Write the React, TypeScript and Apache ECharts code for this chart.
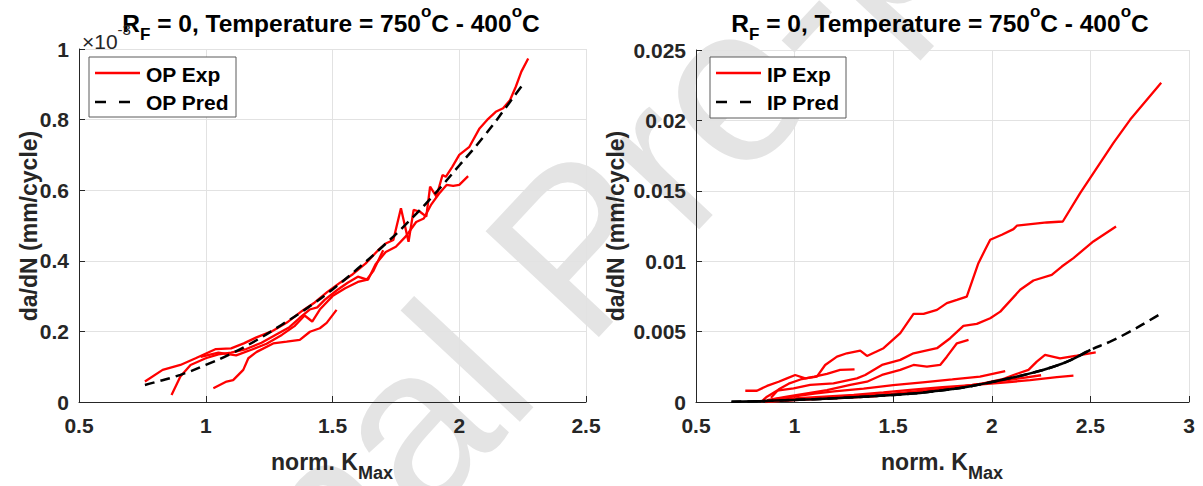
import React, { useEffect, useRef } from "react";
import * as echarts from "echarts";

// ---------- data (left panel: da/dN in units of 10^-3 mm/cycle) ----------
const OP_X_TICKS = [0.5, 1, 1.5, 2, 2.5];
const OP_Y_TICKS = [0, 0.2, 0.4, 0.6, 0.8, 1];
const IP_X_TICKS = [0.5, 1, 1.5, 2, 2.5, 3];
const IP_Y_TICKS = [0, 0.005, 0.01, 0.015, 0.02, 0.025];

const OP_EXP_1 = [[0.76,0.058],[0.83,0.091],[0.9,0.105],[0.96,0.124],[1.04,0.150],[1.1,0.152],[1.15,0.166],[1.2,0.183],[1.26,0.200],[1.32,0.225],[1.38,0.258],[1.43,0.282],[1.48,0.312],[1.53,0.338],[1.58,0.362],[1.63,0.392],[1.68,0.43],[1.71,0.449],[1.74,0.459],[1.77,0.549],[1.80,0.454],[1.82,0.544],[1.845,0.539],[1.87,0.525],[1.885,0.610],[1.91,0.582],[1.934,0.643],[1.947,0.638],[1.973,0.667],[2.0,0.700],[2.04,0.723],[2.08,0.775],[2.11,0.799],[2.144,0.822],[2.173,0.832],[2.2,0.855],[2.223,0.893],[2.245,0.936],[2.272,0.973]];
const OP_EXP_2 = [[0.865,0.020],[0.9,0.072],[0.94,0.105],[1.0,0.124],[1.05,0.135],[1.1,0.140],[1.16,0.150],[1.22,0.168],[1.28,0.192],[1.33,0.212],[1.37,0.238],[1.41,0.262],[1.44,0.268],[1.47,0.29],[1.52,0.318],[1.56,0.338],[1.6,0.355],[1.64,0.346],[1.67,0.39],[1.71,0.425],[1.75,0.44],[1.79,0.47],[1.83,0.51],[1.86,0.52],[1.89,0.56],[1.92,0.59],[1.95,0.615],[1.976,0.612],[2.0,0.615],[2.035,0.640]];
const OP_EXP_3 = [[1.030,0.039],[1.082,0.058],[1.108,0.062],[1.148,0.091],[1.168,0.124],[1.201,0.142],[1.266,0.166],[1.319,0.171],[1.371,0.176],[1.411,0.199],[1.45,0.209],[1.477,0.224],[1.516,0.261]];
const OP_EXP_4 = [[0.98,0.128],[1.05,0.14],[1.12,0.132],[1.18,0.148],[1.24,0.165],[1.3,0.19],[1.35,0.215],[1.39,0.245],[1.42,0.228],[1.45,0.262],[1.5,0.3],[1.55,0.322],[1.6,0.34],[1.634,0.346],[1.66,0.37],[1.7,0.43]];
const OP_PRED = [[0.76,0.048],[0.8,0.056],[0.9,0.077],[1.0,0.105],[1.1,0.137],[1.2,0.175],[1.3,0.219],[1.4,0.266],[1.5,0.319],[1.6,0.378],[1.7,0.442],[1.8,0.511],[1.9,0.587],[2.0,0.670],[2.1,0.755],[2.2,0.850],[2.255,0.904]];

// ---------- data (right panel: da/dN in mm/cycle) ----------
const IP_EXP_1 = [[0.750,0.0008],[0.809,0.0008],[0.860,0.00114],[0.919,0.00144],[0.961,0.00168],[1.003,0.00192],[1.054,0.00168],[1.113,0.0018],[1.155,0.00263],[1.215,0.00322],[1.265,0.00346],[1.333,0.00365],[1.367,0.00327],[1.451,0.00382],[1.536,0.00489],[1.603,0.00626],[1.654,0.00626],[1.722,0.00654],[1.772,0.00702],[1.823,0.00725],[1.873,0.00749],[1.932,0.00986],[1.966,0.01081],[1.992,0.01152],[2.051,0.01188],[2.11,0.01228],[2.127,0.01252],[2.279,0.01275],[2.36,0.01282],[2.448,0.01484],[2.617,0.0184],[2.702,0.02006],[2.859,0.02267]];
const IP_EXP_2 = [[0.83,0.0],[0.86,0.00038],[0.91,0.0008],[0.995,0.00097],[1.079,0.00121],[1.197,0.00133],[1.316,0.00168],[1.358,0.00192],[1.443,0.00263],[1.536,0.00299],[1.603,0.00346],[1.722,0.00382],[1.789,0.00453],[1.856,0.0054],[1.924,0.00555],[1.992,0.00595],[2.043,0.00642],[2.144,0.00797],[2.211,0.00863],[2.304,0.00903],[2.355,0.00962],[2.414,0.01022],[2.515,0.0114],[2.63,0.01247]];
const IP_EXP_3 = [[0.86,0.00014],[0.961,0.00038],[1.063,0.00062],[1.164,0.00085],[1.282,0.00121],[1.367,0.00144],[1.443,0.00192],[1.536,0.00228],[1.603,0.00263],[1.671,0.00251],[1.738,0.00263],[1.772,0.00322],[1.823,0.00417],[1.882,0.00441]];
const IP_EXP_4 = [[0.88,0.0003],[0.92,0.0009],[0.97,0.0013],[1.03,0.0016],[1.1,0.0018],[1.164,0.0020],[1.231,0.00228],[1.304,0.00232]];
const IP_EXP_5 = [[0.95,0.0001],[1.05,0.0002],[1.2,0.0003],[1.35,0.00045],[1.5,0.0006],[1.65,0.0008],[1.8,0.001],[1.95,0.0013],[2.05,0.0016],[2.11,0.00192],[2.186,0.00228],[2.228,0.00287],[2.27,0.00334],[2.346,0.0031],[2.431,0.00329],[2.527,0.00353]];
const IP_EXP_6 = [[0.87,0.0001],[1.0,0.00025],[1.15,0.00038],[1.3,0.0005],[1.45,0.00068],[1.6,0.00088],[1.75,0.00105],[1.9,0.0012],[2.059,0.00137],[2.194,0.00156],[2.33,0.00176],[2.414,0.00187]];
const IP_EXP_7 = [[0.9,0.0002],[1.0,0.0004],[1.1,0.0006],[1.2,0.00075],[1.35,0.00095],[1.5,0.0012],[1.65,0.0014],[1.8,0.0016],[1.94,0.0018],[2.068,0.0022]];
const IP_EXP_8 = [[0.85,0.0],[0.95,0.0001],[1.1,0.0002],[1.25,0.0003],[1.4,0.0004],[1.55,0.0006],[1.7,0.0008],[1.85,0.0011],[2.0,0.0014],[2.15,0.0017],[2.25,0.0019]];
const IP_PRED = [[0.68,0.00002],[0.8,0.00005],[0.9,0.0001],[1.0,0.00015],[1.1,0.0002],[1.2,0.00026],[1.3,0.00033],[1.4,0.00041],[1.5,0.0005],[1.6,0.0006],[1.7,0.00075],[1.8,0.00092],[1.9,0.00114],[2.0,0.00142],[2.1,0.00172],[2.2,0.00205],[2.3,0.00245],[2.4,0.00298],[2.5,0.0037],[2.6,0.00429],[2.7,0.005],[2.8,0.0058],[2.86,0.0063]];
const IP_PRED_OVERLAP_END = 2.5;

const OP_EXP_SERIES = [OP_EXP_1, OP_EXP_2, OP_EXP_3, OP_EXP_4];
const IP_EXP_SERIES = [IP_EXP_1, IP_EXP_2, IP_EXP_3, IP_EXP_4, IP_EXP_5, IP_EXP_6, IP_EXP_7, IP_EXP_8];

const TITLE_TEXT = "{m|R}{s|F}{m| = 0, Temperature = 750}{p|o}{m|C - 400}{p|o}{m|C}";
const FONT = "'Liberation Sans', Arial, Helvetica, sans-serif";
const AXIS_COLOR = "#262626";
const GRID_COLOR = "#e2e2e2";
const RED = "#ff0000";

function axisCommon(min: number, max: number, interval: number, gridIndex: number, labelMargin: number) {
  return {
    gridIndex,
    type: "value",
    min,
    max,
    interval,
    axisLine: { show: true, onZero: false, lineStyle: { color: AXIS_COLOR, width: 1 } },
    axisTick: { show: true, inside: true, length: 6, lineStyle: { color: AXIS_COLOR } },
    axisLabel: {
      margin: labelMargin,
      color: AXIS_COLOR,
      fontSize: 21,
      fontWeight: "bold",
      fontFamily: FONT,
      showMinLabel: true,
      showMaxLabel: true,
    },
    splitLine: { show: true, lineStyle: { color: GRID_COLOR, width: 1 } },
  };
}

const titleRich = {
  m: { fontSize: 24.5, fontWeight: "bold", fontFamily: FONT, fill: "#000", lineHeight: 40, verticalAlign: "middle" },
  s: { fontSize: 17, fontWeight: "bold", fontFamily: FONT, fill: "#000", lineHeight: 14, verticalAlign: "bottom" },
  p: { fontSize: 17, fontWeight: "bold", fontFamily: FONT, fill: "#000", lineHeight: 20, verticalAlign: "top" },
};
const xNameRich = {
  m: { fontSize: 23, fontWeight: "bold", fontFamily: FONT, fill: "#262626", lineHeight: 40, verticalAlign: "middle" },
  s: { fontSize: 18, fontWeight: "bold", fontFamily: FONT, fill: "#262626", lineHeight: 16, verticalAlign: "bottom" },
};

function legend(x: number, y: number, w: number, h: number, a: string, b: string) {
  return [
    { type: "rect", z: 100, shape: { x, y, width: w, height: h }, style: { fill: "#fff", stroke: "#5a5a5a", lineWidth: 1 } },
    { type: "line", z: 101, shape: { x1: x + 6, y1: y + 16, x2: x + 51, y2: y + 16 }, style: { stroke: RED, lineWidth: 2.5 } },
    { type: "line", z: 101, shape: { x1: x + 6, y1: y + 45, x2: x + 41, y2: y + 45 }, style: { stroke: "#000", lineWidth: 2.5, lineDash: [11, 13] } },
    { type: "text", z: 101, x: x + 57, y: y + 17, style: { text: a, fontSize: 21, fontWeight: "bold", fontFamily: FONT, fill: "#000", verticalAlign: "middle" } },
    { type: "text", z: 101, x: x + 57, y: y + 45, style: { text: b, fontSize: 21, fontWeight: "bold", fontFamily: FONT, fill: "#000", verticalAlign: "middle" } },
  ];
}

export default function App() {
  const ref = useRef<HTMLDivElement>(null);
  useEffect(() => {
    if (!ref.current) return;
    const chart = echarts.init(ref.current, null, { renderer: "svg" });
    const series: any[] = [];
    OP_EXP_SERIES.forEach((d) =>
      series.push({ type: "line", name: "OP Exp", xAxisIndex: 0, yAxisIndex: 0, data: d, symbol: "none", lineStyle: { color: RED, width: 2.3 }, z: 3 })
    );
    series.push({ type: "line", name: "OP Pred", xAxisIndex: 0, yAxisIndex: 0, data: OP_PRED, smooth: true, symbol: "none", lineStyle: { color: "#000", width: 2.5, type: [10, 6] }, z: 4 });
    IP_EXP_SERIES.forEach((d) =>
      series.push({ type: "line", name: "IP Exp", xAxisIndex: 1, yAxisIndex: 1, data: d, symbol: "none", lineStyle: { color: RED, width: 2.3 }, z: 3 })
    );
    series.push({ type: "line", name: "IP Pred", xAxisIndex: 1, yAxisIndex: 1, data: IP_PRED, smooth: true, symbol: "none", lineStyle: { color: "#000", width: 2.5, type: [10, 6] }, z: 4 });
    series.push({ type: "line", name: "IP Pred (overlapping specimens)", xAxisIndex: 1, yAxisIndex: 1, data: IP_PRED.filter((p) => p[0] <= IP_PRED_OVERLAP_END), smooth: true, symbol: "none", lineStyle: { color: "#000", width: 2.5 }, z: 4 });

    const option: any = {
      animation: false,
      backgroundColor: "#fff",
      grid: [
        { left: 79, top: 49, width: 507, height: 353 },
        { left: 696, top: 50, width: 493, height: 352 },
      ],
      xAxis: [
        axisCommon(OP_X_TICKS[0], OP_X_TICKS[OP_X_TICKS.length - 1], OP_X_TICKS[1] - OP_X_TICKS[0], 0, 13),
        axisCommon(IP_X_TICKS[0], IP_X_TICKS[IP_X_TICKS.length - 1], IP_X_TICKS[1] - IP_X_TICKS[0], 1, 13),
      ],
      yAxis: [
        axisCommon(OP_Y_TICKS[0], OP_Y_TICKS[OP_Y_TICKS.length - 1], 0.2, 0, 10),
        axisCommon(IP_Y_TICKS[0], IP_Y_TICKS[IP_Y_TICKS.length - 1], 0.005, 1, 10),
      ],
      series,
      graphic: [
        {
          type: "text", z: -10, x: 576, y: 247, rotation: (47 * Math.PI) / 180,
          style: { text: "Journal Pre-proof", fontSize: 225, fontFamily: FONT, fill: "#e4e4e4", align: "center", verticalAlign: "middle" },
        },
        { type: "text", z: 50, x: 331, y: 23, style: { text: TITLE_TEXT, rich: titleRich, align: "center", verticalAlign: "middle" } },
        { type: "text", z: 50, x: 940, y: 23, style: { text: TITLE_TEXT, rich: titleRich, align: "center", verticalAlign: "middle" } },
        {
          type: "text", z: 50, x: 82, y: 37,
          style: {
            text: "{a|×10}{b|-3}",
            rich: {
              a: { fontSize: 21, fontFamily: FONT, fill: "#262626", lineHeight: 30, verticalAlign: "bottom" },
              b: { fontSize: 15, fontFamily: FONT, fill: "#262626", lineHeight: 30, verticalAlign: "top" },
            },
            align: "left", verticalAlign: "middle",
          },
        },
        { type: "text", z: 50, x: 332, y: 462, style: { text: "{m|norm. K}{s|Max}", rich: xNameRich, align: "center", verticalAlign: "middle" } },
        { type: "text", z: 50, x: 942, y: 462, style: { text: "{m|norm. K}{s|Max}", rich: xNameRich, align: "center", verticalAlign: "middle" } },
        { type: "text", z: 50, x: 29, y: 226, rotation: Math.PI / 2, style: { text: "da/dN (mm/cycle)", fontSize: 23, fontWeight: "bold", fontFamily: FONT, fill: "#262626", align: "center", verticalAlign: "middle" } },
        { type: "text", z: 50, x: 616, y: 226, rotation: Math.PI / 2, style: { text: "da/dN (mm/cycle)", fontSize: 23, fontWeight: "bold", fontFamily: FONT, fill: "#262626", align: "center", verticalAlign: "middle" } },
        ...legend(89, 57, 147, 60, "OP Exp", "OP Pred"),
        ...legend(710, 57, 136, 61, "IP Exp", "IP Pred"),
      ],
    };
    chart.setOption(option);
    return () => chart.dispose();
  }, []);
  return <div ref={ref} style={{ position: "absolute", left: 0, top: 0, width: 1203, height: 486 }} />;
}
